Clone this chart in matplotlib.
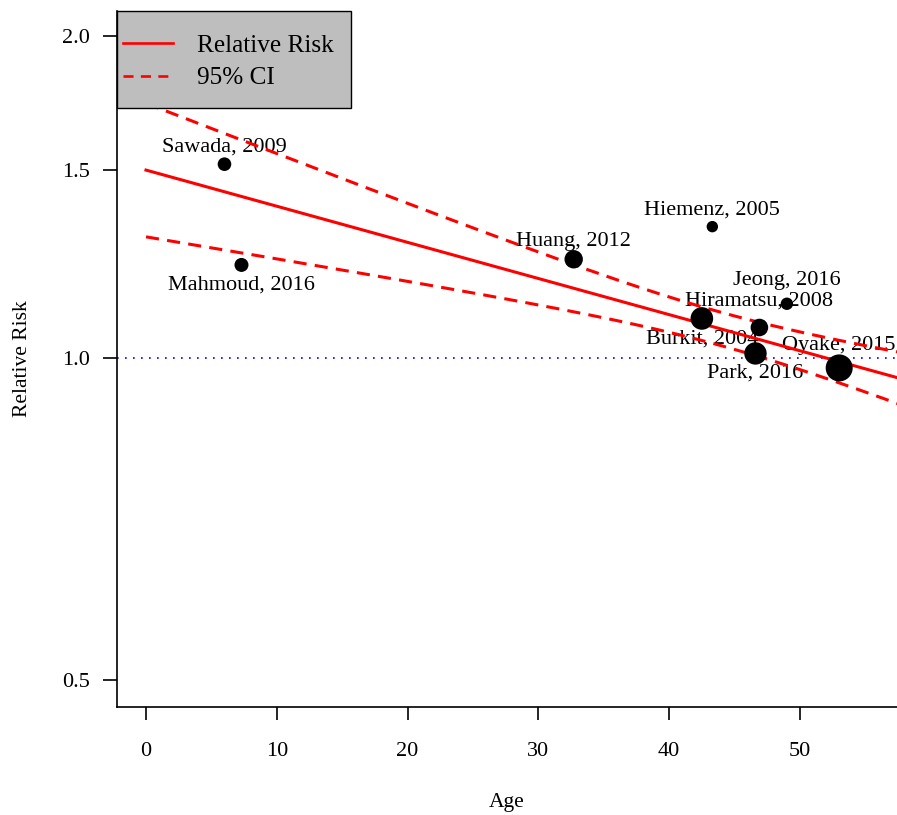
import numpy as np
import matplotlib
matplotlib.use("Agg")
import matplotlib.pyplot as plt
from matplotlib.patches import Rectangle
from matplotlib.lines import Line2D
from matplotlib.ticker import FixedLocator, FixedFormatter, NullLocator

# ---------------- data ----------------
studies = ["Sawada, 2009", "Mahmoud, 2016", "Huang, 2012", "Hiemenz, 2005",
           "Jeong, 2016", "Hiramatsu, 2008", "Burkit, 2004", "Park, 2016",
           "Oyake, 2015"]
age = [6.0, 7.3, 32.7, 43.3, 49.0, 46.9, 42.5, 46.6, 53.0]
rr = [1.518, 1.222, 1.237, 1.327, 1.124, 1.068, 1.089, 1.010, 0.979]
weight = [6.8, 7.0, 9.2, 5.7, 6.2, 8.8, 11.3, 11.2, 13.5]

# meta-regression (log RR scale)
b0 = 0.4047
b1 = -0.00778
se_b0 = 0.07333
se_b1 = 0.001613
cov_b01 = -1.1454e-4

x_ticks = [0, 10, 20, 30, 40, 50]
y_ticks = [0.5, 1.0, 1.5, 2.0]
y_tick_labels = ["0.5", "1.0", "1.5", "2.0"]

# label baseline offsets (pixels, + = above the point)
label_dy = [12.3, -25.0, 13.6, 11.7, 18.3, 22.3, -24.7, -24.0, 18.4]

# ---------------- style ----------------
plt.rcParams['font.family'] = ['Liberation Serif', 'DejaVu Serif']
PX = 0.72  # points per pixel at dpi 100

fig = plt.figure(figsize=(8.97, 8.15), dpi=100)
W, H = 897, 815
ax = fig.add_axes([117 / W, (H - 707) / H, 780 / W, 696 / H])
ax.set_yscale('log')
ax.set_xlim(-2.217, 57.42)
ax.set_ylim(0.4718, 2.111)

for s in ['top', 'right']:
    ax.spines[s].set_visible(False)
for s in ['left', 'bottom']:
    ax.spines[s].set_linewidth(1.2)

ax.xaxis.set_major_locator(FixedLocator(x_ticks))
ax.yaxis.set_major_locator(FixedLocator(y_ticks))
ax.yaxis.set_major_formatter(FixedFormatter(y_tick_labels))
ax.yaxis.set_minor_locator(NullLocator())
ax.tick_params(axis='x', direction='out', length=9.5, width=1.2, pad=15.5,
               labelsize=16)
ax.tick_params(axis='y', direction='out', length=10, width=1.2, pad=9.4,
               labelsize=16)

ax.set_xlabel('Age', fontsize=15.5, va='center')
ax.xaxis.set_label_coords(0.5, (707 - 803) / 696)
ax.set_ylabel('Relative Risk', fontsize=15.5, va='center')
ax.yaxis.set_label_coords((23 - 117) / 780, 0.5)

# labels (drawn first, below lines and points)
for name, xa, ya, dy in zip(studies, age, rr, label_dy):
    ax.annotate(name, (xa, ya), xytext=(0, dy * PX), textcoords='offset points',
                ha='center', va='baseline', fontsize=16, zorder=1)

# reference line
ax.axhline(1.0, color='blue', lw=1.2, dashes=(1, 3.8), zorder=2)

# fitted line + CI
xs = np.linspace(0, 60, 300)
pred = b0 + b1 * xs
se = np.sqrt(se_b0 ** 2 + 2 * xs * cov_b01 + xs ** 2 * se_b1 ** 2)
ax.plot(xs, np.exp(pred), color='red', lw=2.2, zorder=3)
ax.plot(xs, np.exp(pred + 1.96 * se), color='red', lw=2.2, dashes=(4.3, 2.7), zorder=3)
ax.plot(xs, np.exp(pred - 1.96 * se), color='red', lw=2.2, dashes=(4.3, 2.7), zorder=3)

# bubbles
sizes = [(2 * w * PX) ** 2 for w in weight]
ax.scatter(age, rr, s=sizes, color='black', edgecolors='none', zorder=4)

# legend (manual, R style)
def axx(px):
    return (px - 117) / 780

def axy(py):
    return (707 - py) / 696

ax.add_patch(Rectangle((0, axy(108)), axx(351), 1 - axy(108), transform=ax.transAxes,
                       facecolor='#bebebe', edgecolor='black', lw=1.0, zorder=10,
                       clip_on=False))
ax.add_line(Line2D([axx(123), axx(173)], [axy(43), axy(43)], transform=ax.transAxes,
                   color='red', lw=1.9, zorder=11))
ax.add_line(Line2D([axx(123), axx(173)], [axy(76), axy(76)], transform=ax.transAxes,
                   color='red', lw=1.9, dashes=(3.8, 2.8), zorder=11))
ax.text(axx(197), axy(52), 'Relative Risk', transform=ax.transAxes, fontsize=18.2,
        ha='left', va='baseline', zorder=12)
ax.text(axx(197), axy(84), '95% CI', transform=ax.transAxes, fontsize=18.2,
        ha='left', va='baseline', zorder=12)

fig.savefig('out.png', dpi=100)
